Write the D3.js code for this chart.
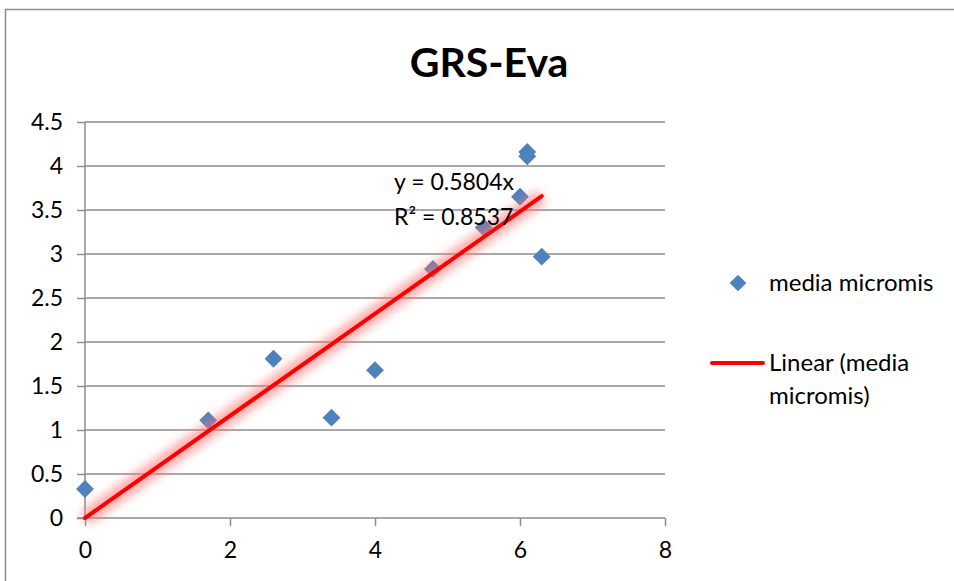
<!DOCTYPE html>
<html>
<head>
<meta charset="utf-8">
<script src="https://cdn.jsdelivr.net/npm/d3@7"></script>
<style>
  body { margin: 0; background: #fff; }
  text { font-family: Lato, "Open Sans", sans-serif; fill: #000; }
</style>
</head>
<body>
<div id="graph"></div>
<script>
var width = 954, height = 581;
var margin = { top: 122, bottom: 63, left: 85, right: 289 };

// data
var xValues = [0, 1.7, 2.6, 3.4, 4.0, 4.8, 5.5, 6.0, 6.1, 6.1, 6.3];
var yValues = [0.33, 1.11, 1.81, 1.14, 1.68, 2.83, 3.30, 3.65, 4.16, 4.11, 2.97];
var xTicks = [0, 2, 4, 6, 8];
var yTicks = [0, 0.5, 1, 1.5, 2, 2.5, 3, 3.5, 4, 4.5];
var slope = 0.5804;
var eqLines = ["y = 0.5804x", "R\u00B2 = 0.8537"];
var seriesName = "media micromis";
var trendName = ["Linear (media", "micromis)"];

var svg = d3.select("#graph").append("svg")
  .attr("width", width).attr("height", height);

// chart frame
svg.append("rect")
  .attr("x", 5.5).attr("y", 9.5)
  .attr("width", width + 10).attr("height", height + 10)
  .attr("fill", "none").attr("stroke", "#8c8c8c").attr("stroke-width", 1.5);

var defs = svg.append("defs");
defs.append("filter").attr("id", "glow")
  .attr("x", "-20%").attr("y", "-20%").attr("width", "140%").attr("height", "140%")
  .append("feGaussianBlur").attr("stdDeviation", 5);

var x = d3.scaleLinear().domain([0, 8]).range([margin.left, width - margin.right]);
var y = d3.scaleLinear().domain([0, 4.5]).range([height - margin.bottom, margin.top]);

// title
svg.append("text")
  .attr("x", 489).attr("y", 77)
  .attr("text-anchor", "middle")
  .attr("font-size", 41).attr("font-weight", "bold")
  .text("GRS-Eva");

// horizontal gridlines
svg.append("g").selectAll("line")
  .data(yTicks.slice(1)).enter().append("line")
  .attr("x1", x(0)).attr("x2", x(8))
  .attr("y1", function (d) { return y(d); })
  .attr("y2", function (d) { return y(d); })
  .attr("stroke", "#8c8c8c").attr("stroke-width", 1.5);

// y axis
var yAxis = svg.append("g")
  .attr("transform", "translate(" + x(0) + ",0)")
  .call(d3.axisLeft(y).tickValues(yTicks).tickSize(8).tickPadding(14).tickFormat(d3.format("")));
yAxis.selectAll("line, path").attr("stroke", "#8c8c8c").attr("stroke-width", 1.5);
yAxis.select(".domain").attr("d", "M0," + y(4.5) + "V" + y(0));
yAxis.selectAll("text").attr("font-size", 23).attr("fill", "#000")
  .style("font-family", "Lato, sans-serif");

// x axis
var xAxis = svg.append("g")
  .attr("transform", "translate(0," + y(0) + ")")
  .call(d3.axisBottom(x).tickValues(xTicks).tickSize(8).tickPadding(16));
xAxis.selectAll("line, path").attr("stroke", "#8c8c8c").attr("stroke-width", 1.5);
xAxis.select(".domain").attr("d", "M" + (x(0) - 8) + ",0H" + x(8));
xAxis.selectAll("text").attr("font-size", 23).attr("fill", "#000")
  .style("font-family", "Lato, sans-serif");

// points
var diamond = d3.symbol().type(d3.symbolSquare).size(160);
svg.append("g").selectAll("path")
  .data(xValues).enter().append("path")
  .attr("d", diamond)
  .attr("transform", function (d, i) {
    return "translate(" + x(d) + "," + y(yValues[i]) + ") rotate(45)";
  })
  .attr("fill", "#4f81bd");

// trendline with glow
var xMax = d3.max(xValues);
var trendData = [0, xMax];
var trend = d3.line()
  .x(function (d) { return x(d); })
  .y(function (d) { return y(slope * d); });
svg.append("path").datum(trendData)
  .attr("d", trend)
  .attr("stroke", "#ff7070").attr("stroke-width", 16).attr("stroke-opacity", 0.6)
  .attr("fill", "none").attr("filter", "url(#glow)");
svg.append("path").datum(trendData)
  .attr("d", trend)
  .attr("stroke", "#ff0000").attr("stroke-width", 4).attr("stroke-linecap", "round")
  .attr("fill", "none");

// equation label
svg.append("g").selectAll("text")
  .data(eqLines).enter().append("text")
  .attr("x", 394).attr("y", function (d, i) { return 190 + i * 35; })
  .attr("font-size", 23)
  .text(function (d) { return d; });

// legend
var legend = svg.append("g");
legend.append("path")
  .attr("d", d3.symbol().type(d3.symbolSquare).size(140))
  .attr("transform", "translate(738,283) rotate(45)")
  .attr("fill", "#4f81bd");
legend.append("text").attr("x", 769).attr("y", 291).attr("font-size", 24).text(seriesName);
legend.append("line")
  .attr("x1", 712).attr("x2", 763).attr("y1", 363).attr("y2", 363)
  .attr("stroke", "#ff0000").attr("stroke-width", 4).attr("stroke-linecap", "round");
legend.selectAll(".trendlbl")
  .data(trendName).enter().append("text")
  .attr("class", "trendlbl")
  .attr("x", 769).attr("y", function (d, i) { return 371 + i * 33; })
  .attr("font-size", 24)
  .text(function (d) { return d; });
</script>
</body>
</html>
